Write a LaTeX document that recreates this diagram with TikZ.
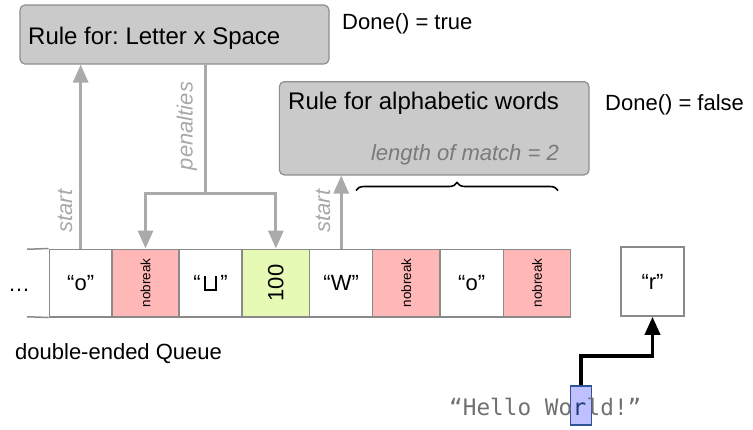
\documentclass[tikz,border=0pt]{standalone}
\usepackage{fontspec}
\usepackage{graphicx}
\setmainfont{Liberation Sans}
\newfontfamily\monofont{DejaVu Sans Mono}
\newcommand\nbfont{\fontsize{13.5}{16}\selectfont}
\newcommand\opensp{\leavevmode\vrule height 15pt depth 0pt width 1.4pt\vrule height 1.4pt depth 0pt width 9.5pt\vrule height 15pt depth 0pt width 1.4pt}
\usetikzlibrary{arrows.meta,decorations.pathreplacing}
\definecolor{boxfill}{HTML}{CACACA}
\definecolor{boxline}{HTML}{8E8E8E}
\definecolor{cellline}{HTML}{8A8A8A}
\definecolor{pinkcell}{HTML}{FFB7B7}
\definecolor{greencell}{HTML}{E6FAB6}
\definecolor{arrowgray}{HTML}{AAAAAA}
\definecolor{labelgray}{HTML}{A8A8A8}
\definecolor{matchgray}{HTML}{7A7A7A}
\definecolor{hlfill}{HTML}{BFC0FF}
\definecolor{hlline}{HTML}{2F5496}
\definecolor{hltext}{HTML}{1F3A78}
\definecolor{monogray}{HTML}{707070}
\frenchspacing
\begin{document}
\begin{tikzpicture}[x=1pt,y=-1pt,
  rulebox/.style={draw=boxline, fill=boxfill, line width=1.2pt, rounded corners=5pt, inner sep=0pt},
  titletext/.style={anchor=base west, inner sep=0pt, font=\fontsize{24}{28}\selectfont},
  donetext/.style={anchor=base west, inner sep=0pt, font=\fontsize{22}{26}\selectfont},
  cellbox/.style={draw=cellline, line width=1.5pt, minimum height=67.5pt, inner sep=0pt, font=\fontsize{22}{26}\selectfont},
  whitecell/.style={cellbox, fill=white},
  pinkbox/.style={cellbox, fill=pinkcell},
  greenbox/.style={cellbox, fill=greencell},
  garrow/.style={draw=arrowgray, line width=3pt, -{Triangle[length=18pt,width=15pt]}},
  gline/.style={draw=arrowgray, line width=3pt},
  barrow/.style={draw=black, line width=3.5pt, -{Triangle[length=18pt,width=15pt]}},
  glabel/.style={text=labelgray, inner sep=0pt, rotate=90, font=\fontsize{22}{26}\selectfont\itshape},
  qline/.style={draw=cellline, line width=1.5pt},
  monotext/.style={anchor=base west, inner sep=0pt, text=monogray, font=\fontsize{22.7}{26}\monofont}
]
\useasboundingbox (0,0) rectangle (753,429);

% rule boxes
\node[rulebox, minimum width=309pt, minimum height=59pt] (r1) at (174.5,34.5) {};
\node[titletext] (t1) at (28,44) {Rule for: Letter x Space};
\node[donetext] (d1) at (342,29) {Done() = true};

\node[rulebox, minimum width=309.7pt, minimum height=93.3pt] (r2) at (434.2,128.3) {};
\node[titletext] (t2) at (288,109) {Rule for alphabetic words};
\node[anchor=base east, inner sep=0pt, text=matchgray, font=\fontsize{22}{26}\selectfont\itshape] (t3) at (559,160) {length of match = 2};
\node[donetext] (d2) at (605,110) {Done() = false};

% queue cells
\node[whitecell, minimum width=62.7pt] (c1) at (80.65,283) {“o”};
\node[pinkbox,  minimum width=67pt]   (c2) at (145.5,283) {\rotatebox{90}{\nbfont nobreak}};
\node[whitecell, minimum width=63pt]   (c3) at (210.5,283) {“\,\opensp\,”};
\node[greenbox, minimum width=67.7pt] (c4) at (275.85,283) {\rotatebox{90}{100}};
\node[whitecell, minimum width=63pt]   (c5) at (341.2,283) {“W”};
\node[pinkbox,  minimum width=67.3pt] (c6) at (406.35,283) {\rotatebox{90}{\nbfont nobreak}};
\node[whitecell, minimum width=63.3pt] (c7) at (471.65,283) {“o”};
\node[pinkbox,  minimum width=67.4pt] (c8) at (537,283) {\rotatebox{90}{\nbfont nobreak}};
\coordinate (qt) at (27,249.25);
\coordinate (qb) at (27,316.75);
\draw[qline] (qt) -- (c1.north west);
\draw[qline] (qb) -- (c1.south west);
\node[anchor=base west, inner sep=0pt, font=\fontsize{22}{26}\selectfont] (dots) at (8,291) {…};

\node[whitecell, minimum width=63pt, minimum height=69pt] (rb) at (652.5,281.5) {“r”};

\node[anchor=west, inner sep=0pt, font=\fontsize{22}{26}\selectfont] (dq) at (15,354) {double-ended Queue};

% arrows from queue to rules
\draw[garrow] (c1.north) -- (c1.north |- r1.south);
\node[glabel] (s1) at (65,211) {start};
\coordinate (pj) at (205.7,193.3);
\draw[gline] (r1.south -| pj) -- (pj);
\draw[garrow] (pj) -| (c2.north);
\draw[garrow] (pj) -| (c4.north);
\node[glabel] (pl) at (187,126) {penalties};
\draw[garrow] (c5.north) -- (c5.north |- r2.south);
\node[glabel] (s2) at (323,211) {start};

% brace
\coordinate (bl) at (356,190.5);
\coordinate (br) at (558,190.5);
\draw[line width=1.6pt, decorate, decoration={brace, amplitude=8pt}] (bl) -- (br);

% hello world
\node[draw=hlline, fill=hlfill, line width=1.2pt, minimum width=20.5pt, minimum height=39pt, inner sep=0pt] (hl) at (581,405.5) {};
\node[monotext] (h1) at (449,415) {“Hello Wo};
\node[monotext, text=hltext] (hr) at (h1.base east) {r};
\node[monotext] (h2) at (hr.base east) {ld!”};
\draw[barrow] (hl.north) -- ++(0,-29.3) -| (rb.south);
\end{tikzpicture}
\end{document}
